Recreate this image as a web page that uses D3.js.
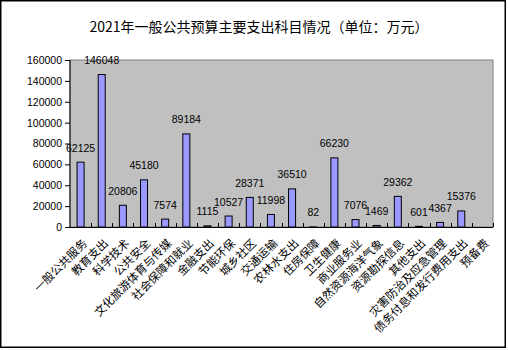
<!DOCTYPE html>
<html><head><meta charset="utf-8">
<script src="https://cdn.jsdelivr.net/npm/d3@7"></script>
<style>
html,body{margin:0;padding:0;background:#fff;}
svg{display:block;}
</style></head>
<body>
<script>
const title = "2021年一般公共预算主要支出科目情况（单位：万元）";
const categories = ["一般公共服务","教育支出","科学技术","公共安全","文化旅游体育与传媒","社会保障和就业","金融支出","节能环保","城乡社区","交通运输","农林水支出","住房保障","卫生健康","商业服务业","自然资源海洋气象","资源勘探信息","其他支出","灾害防治及应急管理","债务付息和发行费用支出","预备费"];
const values = [62125,146048,20806,45180,7574,89184,1115,10527,28371,11998,36510,82,66230,7076,1469,29362,601,4367,15376,null];
const yTicks = [0,20000,40000,60000,80000,100000,120000,140000,160000];

const W = 508, H = 350;
const plot = {left:70, right:493, top:60, bottom:227};

const svg = d3.select("body").append("svg").attr("width",W).attr("height",H);
svg.append("rect").attr("x",0).attr("y",0).attr("width",W).attr("height",H).attr("fill","#fff");
svg.append("rect").attr("x",0.75).attr("y",0.75).attr("width",504.5).attr("height",346.5)
  .attr("fill","none").attr("stroke","#000").attr("stroke-width",1.5);

svg.append("text").attr("x",259).attr("y",32).attr("text-anchor","middle")
  .attr("font-family","'Noto Sans CJK SC', sans-serif").attr("font-size",14).attr("fill","#000")
  .text(title);

const x = d3.scaleBand().domain(categories).range([plot.left, plot.right]).padding(0);
const y = d3.scaleLinear().domain([0,160000]).range([plot.bottom, plot.top]);

// plot background
svg.append("rect").attr("x",plot.left).attr("y",plot.top)
  .attr("width",plot.right-plot.left).attr("height",plot.bottom-plot.top)
  .attr("fill","#C0C0C0").attr("stroke","#808080").attr("stroke-width",1);

// bars
const bw = 7;
svg.append("g").selectAll("rect").data(categories.map((c,i)=>({c,v:values[i]})).filter(d=>d.v!=null))
  .join("rect")
  .attr("x",d=>x(d.c)+x.bandwidth()/2-bw/2)
  .attr("y",d=>y(d.v))
  .attr("width",bw)
  .attr("height",d=>y(0)-y(d.v))
  .attr("fill","#9999FF").attr("stroke","#000").attr("stroke-width",1);

// value labels
svg.append("g").selectAll("text").data(categories.map((c,i)=>({c,v:values[i]})).filter(d=>d.v!=null))
  .join("text")
  .attr("x",d=>x(d.c)+x.bandwidth()/2)
  .attr("y",d=>y(d.v)-10.5)
  .attr("text-anchor","middle")
  .attr("font-family","'Liberation Sans', Arial, sans-serif").attr("font-size",10.5).attr("fill","#000")
  .text(d=>d.v);

// y axis
const yAxis = svg.append("g").attr("transform",`translate(${plot.left},0)`)
  .call(d3.axisLeft(y).tickValues(yTicks).tickSize(5).tickPadding(3).tickFormat(d3.format("d")));
yAxis.selectAll("text").attr("font-family","'Liberation Sans', Arial, sans-serif").attr("font-size",10.5).attr("fill","#000");
yAxis.selectAll("line").attr("stroke","#000");
yAxis.select(".domain").attr("stroke","#000").attr("d",`M0,${plot.top}V${plot.bottom}`);

// x axis line with inward ticks at category boundaries
const gx = svg.append("g");
gx.append("line").attr("x1",plot.left).attr("x2",plot.right).attr("y1",plot.bottom+0.5).attr("y2",plot.bottom+0.5)
  .attr("stroke","#000").attr("stroke-width",1);
const bounds = categories.slice(1).map(c=>x(c)).concat([plot.right]);
gx.selectAll("line.tk").data(bounds).join("line").attr("class","tk")
  .attr("x1",d=>Math.round(d)+0.5).attr("x2",d=>Math.round(d)+0.5)
  .attr("y1",plot.bottom).attr("y2",plot.bottom-4)
  .attr("stroke","#000");

// category labels rotated
const fs = 11.5;
gx.selectAll("text").data(categories).join("text")
  .attr("transform",d=>`translate(${x(d)+x.bandwidth()/2+7.2},244) rotate(-45)`)
  .attr("text-anchor","end")
  .attr("font-family","'Noto Sans CJK SC', sans-serif").attr("font-size",fs).attr("fill","#000")
  .text(d=>d);
</script>
</body></html>
